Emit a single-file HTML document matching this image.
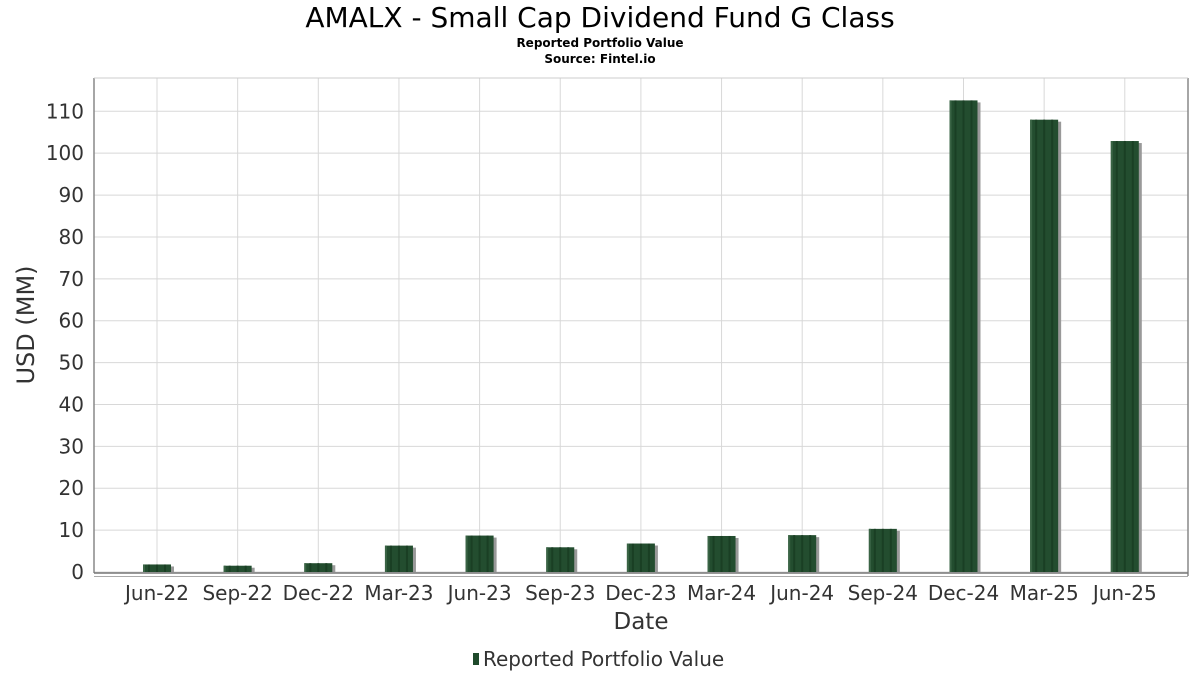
<!DOCTYPE html>
<html><head><meta charset="utf-8"><style>
body{margin:0;background:#fff;font-family:"DejaVu Sans","Liberation Sans",sans-serif;}
svg text{font-family:"DejaVu Sans","Liberation Sans",sans-serif;}
</style></head><body>
<svg id="chart" width="1200" height="675">
<text x="600" y="27" text-anchor="middle" font-size="28" fill="#000">AMALX - Small Cap Dividend Fund G Class</text>
<text x="600" y="47" text-anchor="middle" font-size="12" font-weight="bold" fill="#000">Reported Portfolio Value</text>
<text x="600" y="63" text-anchor="middle" font-size="12" font-weight="bold" fill="#000">Source: Fintel.io</text>
<g id="grid"></g>
<g id="bars"></g>
<g id="axes"></g>
<text x="641" y="629" text-anchor="middle" font-size="23" fill="#333">Date</text>
<text transform="translate(34,325) rotate(-90)" text-anchor="middle" font-size="24" fill="#333">USD (MM)</text>
<g>
<rect x="473" y="653" width="6" height="12" fill="#1f4a2b"></rect>
<text x="483" y="666" font-size="20" fill="#333">Reported Portfolio Value</text>
</g>
</svg>
<script>
const categories=["Jun-22","Sep-22","Dec-22","Mar-23","Jun-23","Sep-23","Dec-23","Mar-24","Jun-24","Sep-24","Dec-24","Mar-25","Jun-25"];
const values=[1.8,1.5,2.1,6.3,8.7,5.9,6.8,8.6,8.8,10.3,112.6,108.0,102.9];
const yTicks=[0,10,20,30,40,50,60,70,80,90,100,110];
const NS="http://www.w3.org/2000/svg";
const L=94,R=1188,T=78,B=572;
const ymax=110,yTop=111.3;
function y(v){return B-(B-yTop)*v/ymax;}
const step=80.65,x0=157;
function x(i){return x0+i*step;}
function mk(t,a,p){const e=document.createElementNS(NS,t);for(const k in a)e.setAttribute(k,a[k]);p.appendChild(e);return e;}
const grid=document.getElementById('grid'),bars=document.getElementById('bars'),axes=document.getElementById('axes');
mk('rect',{x:L,y:T,width:R-L,height:B-T,fill:'#fff',stroke:'none'},grid);
yTicks.forEach(v=>{
 const g=mk('line',{x1:L,x2:R,y1:y(v),y2:y(v),stroke:'#d8d8d8','stroke-width':1},grid);
 
 
 const t=mk('text',{x:L-10,y:y(v)+7,'text-anchor':'end','font-size':20,fill:'#333'},axes);
 t.textContent=v;
 
 
});
categories.forEach((c,i)=>{
 const g=mk('line',{x1:x(i),x2:x(i),y1:T,y2:B,stroke:'#d8d8d8','stroke-width':1},grid);
 
 
 const t=mk('text',{x:x(i),y:600,'text-anchor':'middle','font-size':20,fill:'#333'},axes);
 t.textContent=c;
 
 
 const top=y(values[i]),w=28,bx=x(i)-14;
 const s=mk('rect',{x:bx+3,y:top+2,width:w,height:B-top-2,fill:'#999'},bars);
 
 
 const b=mk('rect',{x:bx,y:top,width:w,height:B-top,fill:'#234d2f'},bars);
 
 
 [6,14,22].forEach(o=>{mk('rect',{x:bx+o-1,y:top,width:2,height:B-top,fill:'#1a3f24'},bars);});
 mk('rect',{x:bx,y:top,width:2,height:B-top,fill:'#3a6445'},bars);
});
mk('line',{x1:L,x2:L,y1:T,y2:B+1,stroke:'#888','stroke-width':1.5},axes);
mk('line',{x1:R,x2:R,y1:T,y2:B+4,stroke:'#888','stroke-width':1.5},axes);
mk('line',{x1:L,x2:R,y1:B+1,y2:B+1,stroke:'#777','stroke-width':1.5},axes);
mk('line',{x1:L,x2:R,y1:B+4.5,y2:B+4.5,stroke:'#aaa','stroke-width':1},axes);
mk('line',{x1:L,x2:R,y1:T,y2:T,stroke:'#ccc','stroke-width':1},axes);
</script>
</body></html>
